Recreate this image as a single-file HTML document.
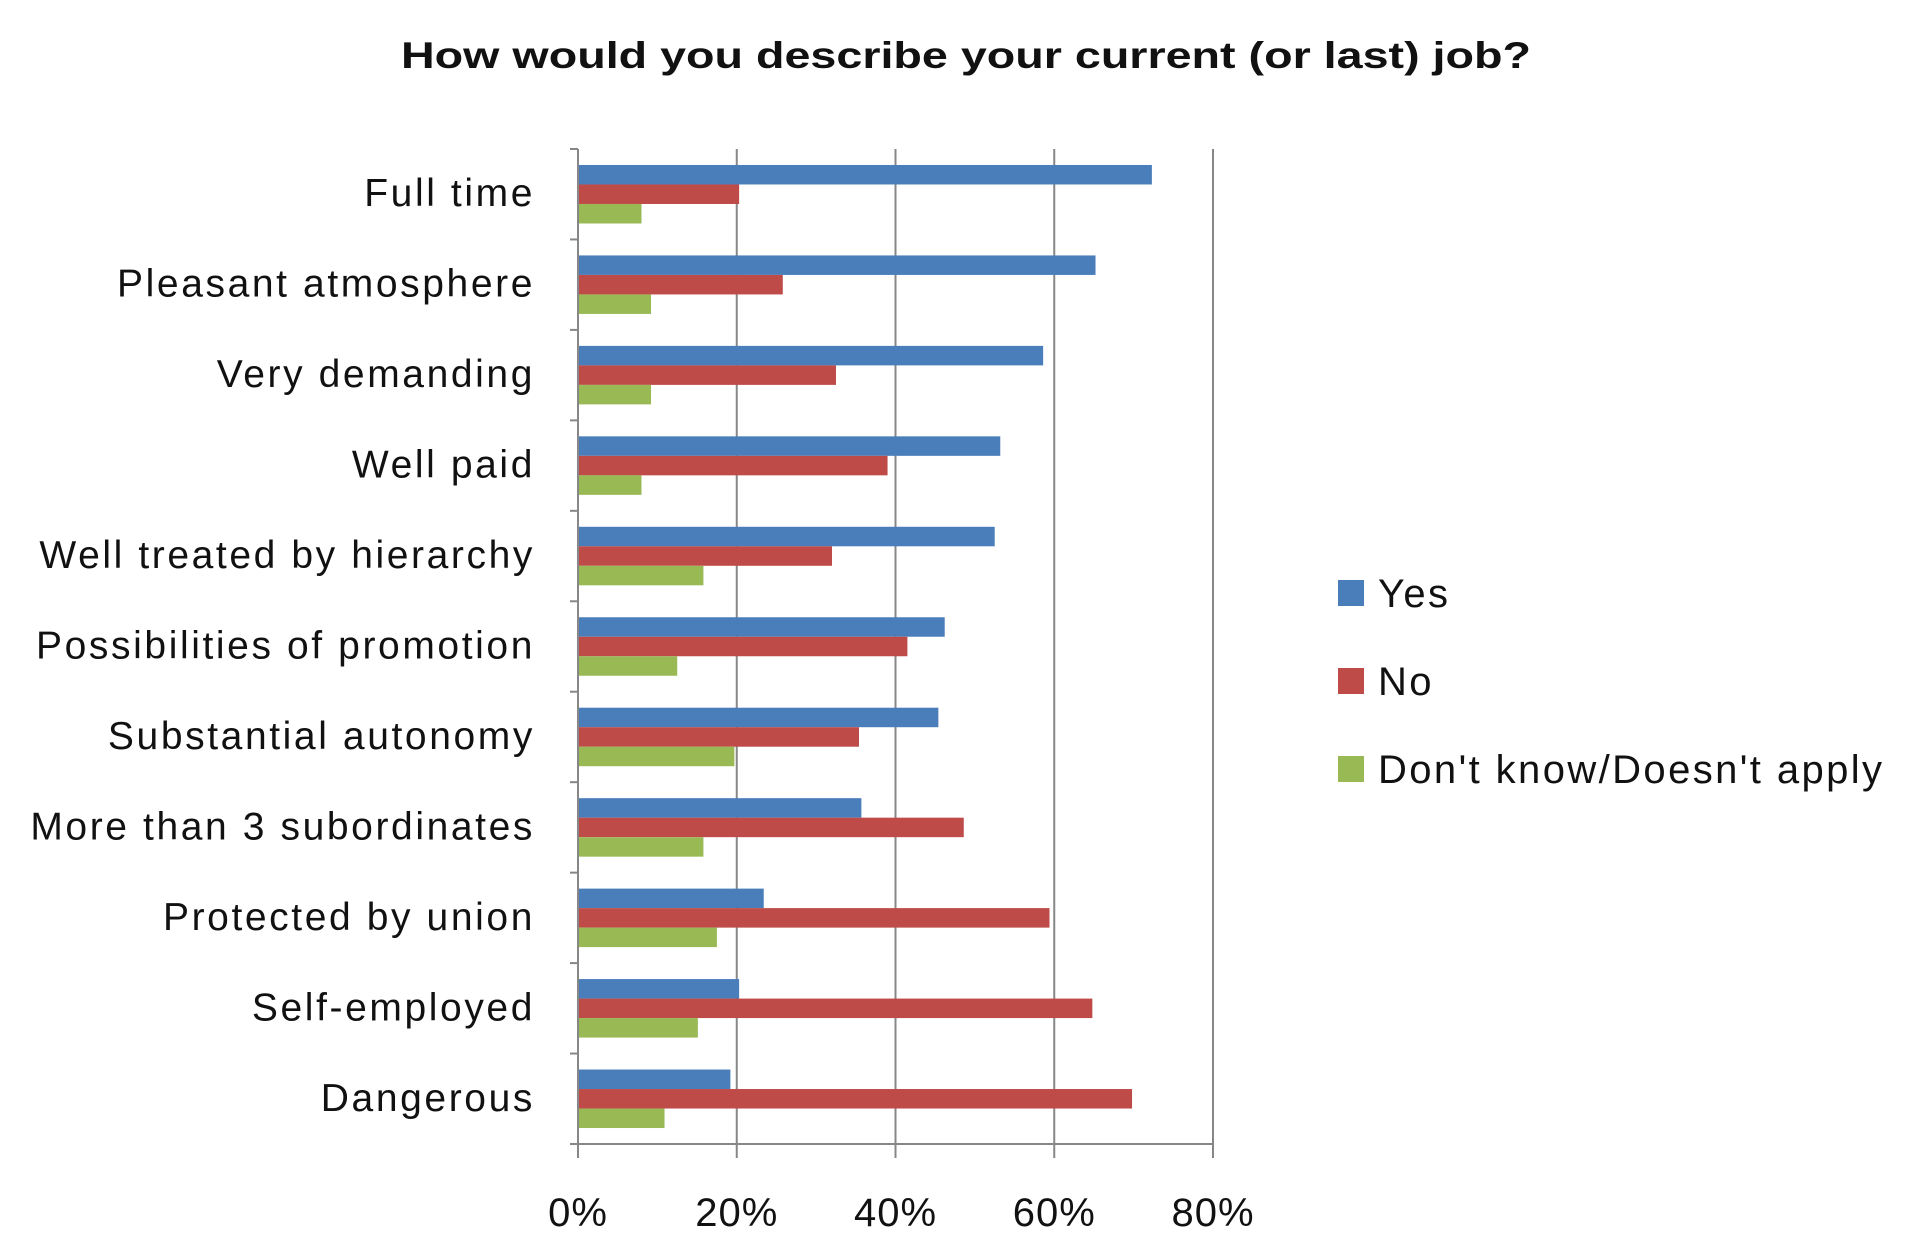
<!DOCTYPE html>
<html><head><meta charset="utf-8"><style>
html,body{margin:0;padding:0;background:#fff;}
svg{display:block;font-family:"Liberation Sans",sans-serif;}
</style></head><body>
<svg id="chart" width="1920" height="1246" viewBox="0 0 1920 1246">
<text x="966" y="68" text-anchor="middle" font-size="37" font-weight="bold" fill="#111" textLength="1130" lengthAdjust="spacingAndGlyphs">How would you describe your current (or last) job?</text>
<g id="grid"></g><g id="bars"></g><g id="axes"></g><g id="labels"></g><g id="legend"></g>
</svg>
<script>
const categories = ["Full time","Pleasant atmosphere","Very demanding","Well paid","Well treated by hierarchy","Possibilities of promotion","Substantial autonomy","More than 3 subordinates","Protected by union","Self-employed","Dangerous"];
const yesValues = [72.3,65.2,58.6,53.2,52.5,46.2,45.4,35.7,23.4,20.3,19.2];
const noValues = [20.3,25.8,32.5,39,32,41.5,35.4,48.6,59.4,64.8,69.8];
const dkValues = [8,9.2,9.2,8,15.8,12.5,19.7,15.8,17.5,15.1,10.9];
const tickValues = [0,20,40,60,80];
const tickLabels = ["0%","20%","40%","60%","80%"];
const seriesNames = ["Yes","No","Don't know/Doesn't apply"];

const NS="http://www.w3.org/2000/svg";
const X0=578,X1=1218-5,Y0=149,Y1=1144,VMAX=80;
const colors=["#4a7ebb","#be4b48","#98b954"];
const band=(Y1-Y0)/categories.length;
const xs=v=>X0+(X1-X0)*v/VMAX;
const yb=i=>Y0+band*i;
function mk(tag,attrs,parent){const e=document.createElementNS(NS,tag);for(const k in attrs)e.setAttribute(k,attrs[k]);document.getElementById(parent).appendChild(e);return e;}

tickValues.forEach((t,i)=>{
  const g=mk('line',{x1:xs(t),x2:xs(t),y1:Y0,y2:Y1+14,stroke:'#878787','stroke-width':2},'grid');
  
  
  const tx=mk('text',{x:xs(t),y:1226,'text-anchor':'middle','font-size':40,fill:'#111','letter-spacing':1},'labels');
  tx.textContent=tickLabels[i];
  
  
});
const series=[yesValues,noValues,dkValues];
const bh=19.5, off=(band-3*bh)/2;
categories.forEach((c,i)=>{
  series.forEach((vals,s)=>{
    const r=mk('rect',{x:X0,y:yb(i)+off+s*bh,width:xs(vals[i])-X0,height:bh,fill:colors[s]},'bars');
    
    
  });
  const t=mk('text',{x:535,y:yb(i)+band/2+12,'text-anchor':'end','font-size':39,fill:'#111','letter-spacing':2.6},'labels');
  t.textContent=c;
  
  
});
for(let i=0;i<=categories.length;i++){
  const tk=mk('line',{x1:570,x2:X0,y1:yb(i),y2:yb(i),stroke:'#878787','stroke-width':2},'axes');
  
  
}
const ya=mk('line',{x1:X0,x2:X0,y1:Y0,y2:Y1+14,stroke:'#878787','stroke-width':2},'axes');


const xa=mk('line',{x1:570,x2:X1,y1:Y1,y2:Y1,stroke:'#878787','stroke-width':2},'axes');


const ly=[593,681,769];
seriesNames.forEach((n,s)=>{
  const r=mk('rect',{x:1338,y:ly[s]-13,width:26,height:26,fill:colors[s]},'legend');
  
  
  const t=mk('text',{x:1378,y:ly[s]+14,'font-size':40,fill:'#111','letter-spacing':2.4},'legend');
  t.textContent=n;
  
  
});
</script>
</body></html>
